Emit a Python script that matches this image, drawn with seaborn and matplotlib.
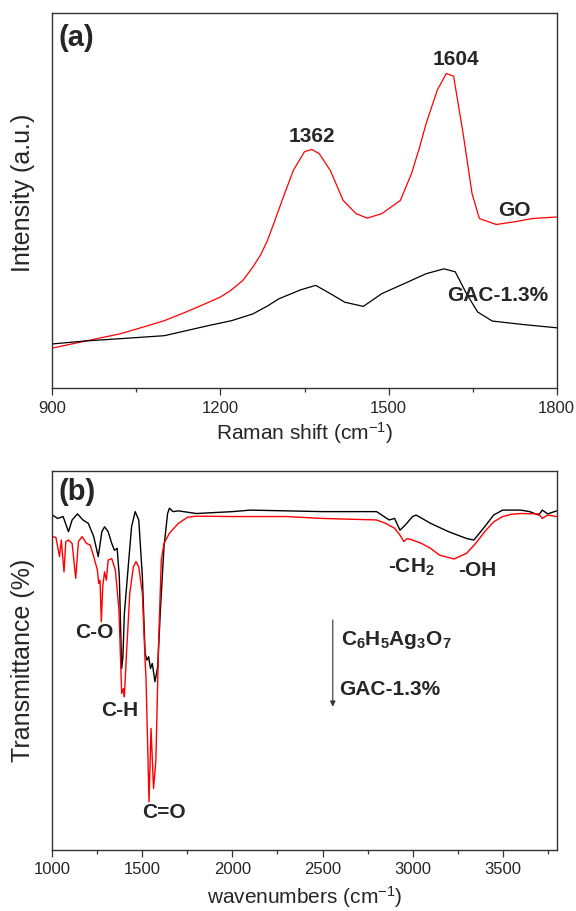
import matplotlib
matplotlib.use('Agg')
import matplotlib.pyplot as plt
from matplotlib.ticker import MultipleLocator, NullLocator
import seaborn as sns

# Raman spectra (a), intensity in arbitrary units
raman_go_x = [900, 960, 1021, 1060, 1100, 1140, 1179, 1200, 1218, 1240, 1258, 1272,
              1284, 1297, 1310, 1330, 1350, 1363, 1376, 1396, 1419, 1442, 1462, 1488,
              1521, 1541, 1555, 1567, 1587, 1603, 1616, 1633, 1649, 1662, 1692, 1724,
              1757, 1800]
raman_go_y = [10.7, 12.6, 14.5, 16.2, 18.0, 20.4, 22.9, 24.3, 26.0, 28.7, 32.3, 35.6,
              39.4, 44.6, 50.0, 58.0, 63.0, 63.6, 62.5, 58.0, 50.0, 46.5, 45.3, 46.5,
              50.0, 57.2, 64.0, 70.5, 79.4, 83.8, 83.1, 67.8, 51.8, 45.2, 43.6, 44.3,
              45.2, 45.6]
raman_gac_x = [900, 960, 1021, 1100, 1179, 1220, 1258, 1285, 1304, 1343, 1370, 1396,
               1422, 1455, 1488, 1527, 1567, 1599, 1619, 1639, 1659, 1685, 1738, 1800]
raman_gac_y = [11.8, 12.6, 13.2, 14.0, 16.7, 18.0, 19.8, 22.0, 23.8, 26.2, 27.4, 25.2,
               22.9, 21.8, 25.2, 27.8, 30.5, 31.8, 31.0, 25.2, 20.3, 17.9, 17.0, 16.1]

# FTIR spectra (b), transmittance
ir_cit_x = [1000, 1030, 1060, 1090, 1110, 1140, 1170, 1200, 1230, 1255, 1275, 1290,
            1310, 1330, 1345, 1360, 1372, 1385, 1392, 1400, 1420, 1440, 1460, 1480,
            1500, 1515, 1525, 1535, 1545, 1555, 1570, 1585, 1600, 1620, 1640, 1650,
            1670, 1700, 1800, 2000, 2100, 2300, 2500, 2800, 2870, 2900, 2930, 2960,
            3000, 3020, 3100, 3200, 3300, 3340, 3400, 3450, 3500, 3600, 3650, 3700,
            3720, 3750, 3800]
ir_cit_y = [88.3, 87.4, 87.9, 83.9, 87.0, 88.6, 87.0, 86.1, 82.6, 77.3, 83.9, 85.2,
            83.9, 80.8, 79.0, 79.5, 72.0, 47.8, 50.9, 62.3, 73.8, 85.2, 89.2, 87.0,
            72.0, 51.8, 50.0, 50.9, 47.8, 49.1, 44.3, 48.2, 63.2, 79.9, 88.7, 90.1,
            89.2, 89.4, 88.7, 89.2, 89.6, 89.4, 89.2, 89.2, 87.0, 87.4, 84.3, 85.7,
            87.9, 88.3, 86.1, 83.9, 82.1, 81.7, 85.2, 88.3, 89.6, 89.6, 89.2, 88.3,
            89.6, 88.6, 89.4]
ir_gac_x = [1000, 1020, 1040, 1050, 1065, 1075, 1090, 1110, 1130, 1145, 1165, 1190,
            1210, 1230, 1250, 1258, 1265, 1272, 1280, 1290, 1300, 1310, 1330, 1350,
            1370, 1385, 1395, 1400, 1410, 1430, 1450, 1465, 1480, 1500, 1515, 1520,
            1537, 1548, 1562, 1575, 1590, 1605, 1620, 1650, 1700, 1750, 1800, 2000,
            2300, 2500, 2800, 2850, 2900, 2930, 2952, 2970, 3000, 3050, 3100, 3150,
            3230, 3300, 3350, 3400, 3450, 3500, 3550, 3600, 3700, 3720, 3750, 3800]
ir_gac_y = [82.6, 82.4, 77.3, 81.7, 73.3, 81.3, 81.7, 80.8, 71.6, 81.3, 82.6, 80.8,
            80.4, 77.3, 73.8, 70.2, 71.1, 60.1, 69.4, 73.3, 71.1, 76.4, 76.8, 73.8,
            63.2, 41.2, 42.5, 40.3, 50.0, 67.6, 74.6, 76.0, 74.6, 67.6, 50.0, 45.6,
            12.6, 32.0, 16.1, 23.6, 54.4, 76.4, 80.8, 83.5, 86.1, 87.7, 88.0, 87.9,
            87.9, 87.4, 87.0, 86.1, 84.8, 83.0, 81.3, 82.1, 81.7, 80.8, 79.5, 77.7,
            76.7, 78.2, 80.8, 83.9, 86.5, 87.9, 88.5, 88.7, 88.6, 87.4, 88.3, 87.9]

sns.set_style('ticks')
plt.rcParams['font.family'] = ['Liberation Sans', 'DejaVu Sans']
plt.rcParams['mathtext.fontset'] = 'custom'
plt.rcParams['mathtext.rm'] = 'Liberation Sans'
plt.rcParams['mathtext.bf'] = 'Liberation Sans:bold'
plt.rcParams['mathtext.default'] = 'regular'

fig = plt.figure(figsize=(5.76, 9.11), dpi=100)
ax1 = fig.add_axes([0.0908, 0.5738, 0.8757, 0.4123])
ax2 = fig.add_axes([0.0908, 0.0675, 0.8757, 0.4158])

sns.lineplot(x=raman_go_x, y=raman_go_y, ax=ax1, color='#ff0000', lw=0.9)
sns.lineplot(x=raman_gac_x, y=raman_gac_y, ax=ax1, color='black', lw=0.9)
sns.lineplot(x=ir_cit_x, y=ir_cit_y, ax=ax2, color='black', lw=1.0)
sns.lineplot(x=ir_gac_x, y=ir_gac_y, ax=ax2, color='#ff0000', lw=1.0)

for ax in (ax1, ax2):
    ax.set_ylim(0, 100)
    ax.yaxis.set_major_locator(NullLocator())
    ax.tick_params(axis='x', which='major', direction='out', length=5, width=0.9,
                   labelsize=12, color='#333333', pad=4)
    ax.tick_params(axis='x', which='minor', direction='out', length=3, width=0.9,
                   color='#333333')
    for s in ax.spines.values():
        s.set_visible(True)
        s.set_linewidth(1.0)
        s.set_color('#333333')

ax1.set_xlim(900, 1800)
ax1.xaxis.set_major_locator(MultipleLocator(300))
ax1.xaxis.set_minor_locator(MultipleLocator(150))
ax1.set_xlabel('Raman shift (cm$^{-1}$)', fontsize=15, labelpad=3)
ax1.set_ylabel('Intensity (a.u.)', fontsize=18)
ax1.yaxis.set_label_coords(-0.035, 0.52)

ax2.set_xlim(1000, 3800)
ax2.xaxis.set_major_locator(MultipleLocator(500))
ax2.xaxis.set_minor_locator(MultipleLocator(250))
ax2.set_xlabel('wavenumbers (cm$^{-1}$)', fontsize=15, labelpad=5)
ax2.set_ylabel('Transmittance (%)', fontsize=18)
ax2.yaxis.set_label_coords(-0.035, 0.5)

bold = dict(fontweight='bold', fontsize=15, ha='center', va='center')
ax1.text(0.012, 0.933, '(a)', transform=ax1.transAxes, fontsize=21,
         fontweight='bold', ha='left', va='center')
ax1.text(1363, 66.9, '1362', **bold)
ax1.text(1620, 87.4, '1604', **bold)
ax1.text(1724, 47.2, 'GO', **bold)
ax1.text(1695, 24.8, 'GAC-1.3%', **bold)

ax2.text(0.012, 0.945, '(b)', transform=ax2.transAxes, fontsize=21,
         fontweight='bold', ha='left', va='center')
ax2.text(1231, 57.2, 'C-O', **bold)
ax2.text(1374, 36.8, 'C-H', **bold)
ax2.text(1617, 9.7, 'C=O', **bold)
ax2.text(2993, 74.5, '-CH$_\\mathbf{2}$', **bold)
ax2.text(3357, 73.6, '-OH', **bold)
ax2.annotate('', xy=(2557, 37.7), xytext=(2557, 60.6),
             arrowprops=dict(arrowstyle='-|>', color='#333333', lw=0.8,
                             mutation_scale=8, shrinkA=0, shrinkB=0))
ax2.text(2604, 55.3, 'C$_\\mathbf{6}$H$_\\mathbf{5}$Ag$_\\mathbf{3}$O$_\\mathbf{7}$',
         fontweight='bold', fontsize=15, ha='left', va='center')
ax2.text(2594, 42.3, 'GAC-1.3%', fontweight='bold', fontsize=15,
         ha='left', va='center')

fig.savefig('out.png', dpi=100, facecolor='white')
